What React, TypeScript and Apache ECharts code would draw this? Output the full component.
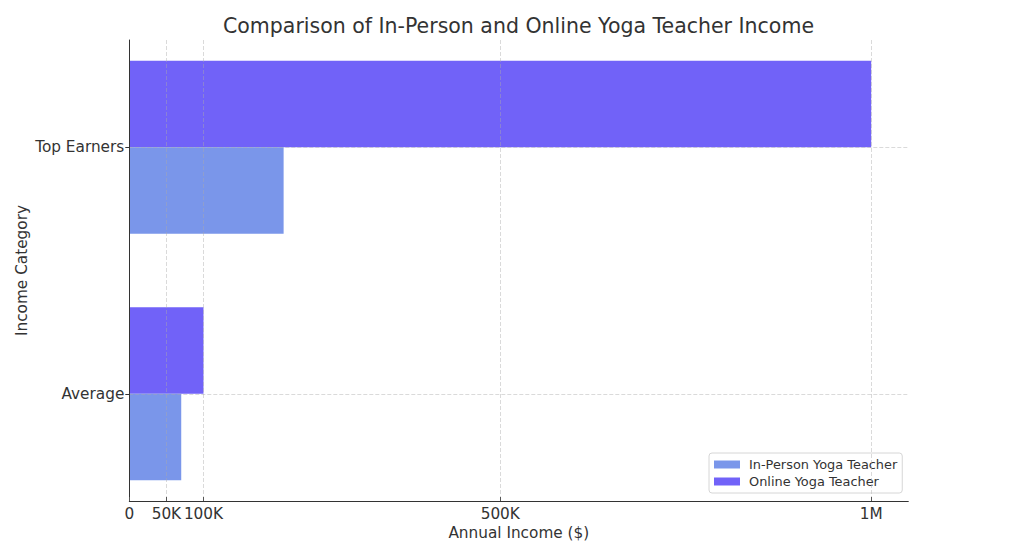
import { useEffect, useRef } from "react";
import * as echarts from "echarts";

const categories = ["Average", "Top Earners"];
const inPerson = [70000, 208000];
const online = [100000, 1000000];
const xTickValues = [0, 50000, 100000, 500000, 1000000];
const xTickLabels = ["0", "50K", "100K", "500K", "1M"];
const seriesNames = ["In-Person Yoga Teacher", "Online Yoga Teacher"];

const FONT = "DejaVu Sans";
const gridColor = "rgba(170,170,170,0.55)";

export default function App() {
  const chartRef = useRef<HTMLDivElement | null>(null);

  useEffect(() => {
    if (!chartRef.current) return;
    const chart = echarts.init(chartRef.current, null, { renderer: "svg" });

    const option = {
      animation: false,
      textStyle: { fontFamily: FONT },
      title: {
        text: "Comparison of In-Person and Online Yoga Teacher Income",
        left: 513.5,
        textAlign: "center",
        top: 10.5,
        textStyle: { fontFamily: FONT, fontSize: 20.5, fontWeight: "normal", color: "#333" },
      },
      legend: {
        orient: "vertical",
        left: 709,
        top: 453,
        padding: [5, 5, 5, 5],
        itemWidth: 26,
        itemHeight: 8,
        itemGap: 4,
        icon: "rect",
        borderColor: "#d6d6d6",
        borderWidth: 1,
        borderRadius: 3,
        backgroundColor: "rgba(255,255,255,0.85)",
        textStyle: { fontFamily: FONT, fontSize: 12.9, color: "#333", padding: [0, 0, 0, 4] },
        data: seriesNames,
      },
      grid: [
        // bars
        { left: 129.3, right: 115.7, top: 24.05, bottom: 38.95 },
        // frame
        { left: 129.3, right: 115.7, top: 40, bottom: 55 },
      ],
      xAxis: [
        { gridIndex: 0, type: "value", min: 0, max: 1050000, show: false },
        {
          gridIndex: 1,
          type: "value",
          min: 0,
          max: 1050000,
          z: 5,
          name: "Annual Income ($)",
          nameLocation: "middle",
          nameGap: 24,
          nameTextStyle: { fontFamily: FONT, fontSize: 15.3, color: "#333" },
          axisLine: { show: true, onZero: false, lineStyle: { color: "#333", width: 1 } },
          axisTick: { show: true, inside: true, length: 4, customValues: xTickValues, lineStyle: { color: "#555" } },
          axisLabel: {
            customValues: xTickValues,
            margin: 5,
            fontFamily: FONT,
            fontSize: 15.3,
            color: "#333",
            formatter: (v: number) => xTickLabels[xTickValues.indexOf(v)] ?? "",
          },
          splitLine: { show: true, lineStyle: { color: gridColor, type: [4, 2], width: 0.8 } },
        },
      ],
      yAxis: [
        {
          gridIndex: 0,
          type: "category",
          data: categories,
          axisLine: { show: false },
          axisTick: { show: false },
          splitLine: { show: false },
          axisLabel: { margin: 5, fontFamily: FONT, fontSize: 15.3, color: "#333" },
        },
        {
          gridIndex: 1,
          type: "value",
          min: -0.435,
          max: 1.435,
          z: 5,
          name: "Income Category",
          nameLocation: "middle",
          nameGap: 100,
          nameTextStyle: { fontFamily: FONT, fontSize: 15.3, color: "#333" },
          axisLine: { show: true, onZero: false, lineStyle: { color: "#333", width: 1 } },
          axisTick: { show: true, length: 4, customValues: [0, 1], lineStyle: { color: "#333" } },
          axisLabel: { show: false, customValues: [0, 1] },
          splitLine: { show: true, lineStyle: { color: gridColor, type: [4, 2], width: 0.8 } },
        },
      ],
      series: [
        {
          name: seriesNames[1],
          type: "bar",
          xAxisIndex: 0,
          yAxisIndex: 0,
          data: online,
          barWidth: 86.5,
          barGap: "0%",
          itemStyle: { color: "#7162f8" },
        },
        {
          name: seriesNames[0],
          type: "bar",
          xAxisIndex: 0,
          yAxisIndex: 0,
          data: inPerson,
          barWidth: 86.5,
          barGap: "0%",
          itemStyle: { color: "#7a96ea" },
        },
      ],
    };

    chart.setOption(option);
    return () => {
      chart.dispose();
    };
  }, []);

  return (
    <div
      ref={chartRef}
      style={{ position: "absolute", left: 0, top: 0, width: 1024, height: 556, background: "#fff" }}
    />
  );
}
